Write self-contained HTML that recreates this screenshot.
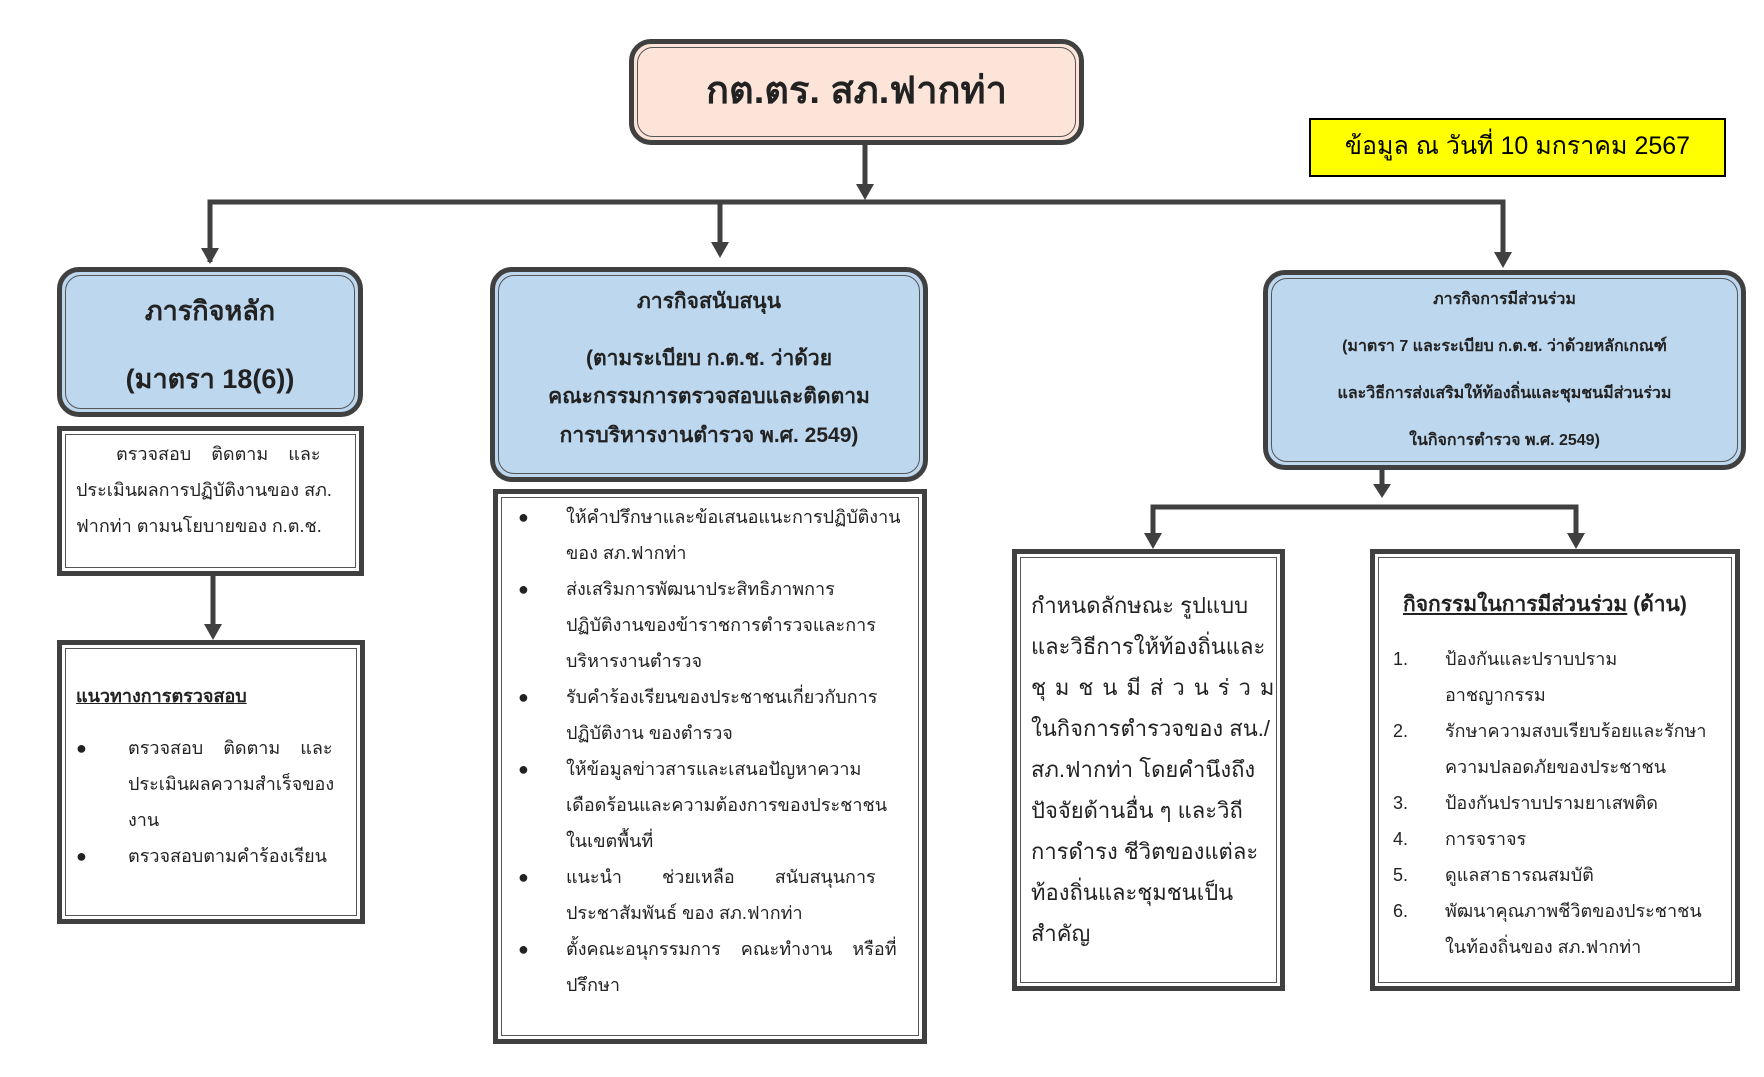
<!DOCTYPE html>
<html><head><meta charset="utf-8"><style>
body{margin:0;width:1764px;height:1077px;background:#fff;position:relative;overflow:hidden;font-family:"Liberation Sans","DejaVu Sans",sans-serif;color:#222}
.b{position:absolute;box-sizing:border-box;border:5px solid #404040;padding:3px}
.b>.i{width:100%;height:100%;box-sizing:border-box;border:1.5px solid #555;position:relative}
.r{border-radius:22px}.r>.i{border-radius:16px}
.blue>.i{background:#bdd7ee}.blue{background:#bdd7ee}
.t{position:absolute;left:0;right:0;text-align:center;white-space:nowrap;margin-top:-11px}
.l{position:absolute;white-space:nowrap;margin-top:-12px}
.n{display:inline-block}
</style></head><body>
<svg width="1764" height="1077" style="position:absolute;left:0;top:0">
<g stroke="#404040" stroke-width="5" fill="none">
<path d="M865 144V186"/>
<path d="M210 262V202H1503V254"/>
<path d="M720 202V244"/>
<path d="M213 575V626"/>
<path d="M1382 469V486"/>
<path d="M1153 535V507H1576V535"/>
</g>
<g fill="#404040">
<path d="M856 184h18l-9 16z"/>
<path d="M201 248h18l-9 16z"/>
<path d="M711 242h18l-9 16z"/>
<path d="M1494 252h18l-9 16z"/>
<path d="M204 624h18l-9 16z"/>
<path d="M1373 484h18l-9 14z"/>
<path d="M1144 533h18l-9 16z"/>
<path d="M1567 533h18l-9 16z"/>
</g>
</svg>

<div class="b r" style="left:629px;top:39px;width:455px;height:106px;background:#fde4d8"><div class="i" style="background:#fde4d8">
<div class="t" style="top:22px;font-size:38px;font-weight:bold;color:#222">กต.ตร. สภ.ฟากท่า</div></div></div>

<div style="position:absolute;left:1309px;top:118px;width:417px;height:59px;box-sizing:border-box;border:2px solid #000;background:#ffff00">
<div class="t" style="top:12px;font-size:25px;color:#000;margin-top:-6px">ข้อมูล ณ วันที่ 10 มกราคม 2567</div></div>

<div class="b r blue" style="left:57px;top:267px;width:306px;height:150px"><div class="i">
<div class="t" style="top:24px;font-size:27px;font-weight:bold">ภารกิจหลัก</div>
<div class="t" style="top:92px;font-size:27px;font-weight:bold">(มาตรา 18(6))</div></div></div>

<div class="b r blue" style="left:490px;top:267px;width:438px;height:215px"><div class="i">
<div class="t" style="top:20px;font-size:21px;font-weight:bold">ภารกิจสนับสนุน</div>
<div class="t" style="top:77px;font-size:21px;font-weight:bold">(ตามระเบียบ ก.ต.ช. ว่าด้วย</div>
<div class="t" style="top:115px;font-size:21px;font-weight:bold">คณะกรรมการตรวจสอบและติดตาม</div>
<div class="t" style="top:154px;font-size:21px;font-weight:bold">การบริหารงานตำรวจ พ.ศ. 2549)</div></div></div>

<div class="b r blue" style="left:1263px;top:270px;width:483px;height:200px"><div class="i">
<div class="t" style="top:19px;font-size:16px;font-weight:bold">ภารกิจการมีส่วนร่วม</div>
<div class="t" style="top:66px;font-size:16px;font-weight:bold">(มาตรา 7 และระเบียบ ก.ต.ช. ว่าด้วยหลักเกณฑ์</div>
<div class="t" style="top:113px;font-size:16px;font-weight:bold">และวิธีการส่งเสริมให้ท้องถิ่นและชุมชนมีส่วนร่วม</div>
<div class="t" style="top:160px;font-size:16px;font-weight:bold">ในกิจการตำรวจ พ.ศ. 2549)</div></div></div>

<div class="b" style="left:57px;top:426px;width:307px;height:150px"><div class="i" style="font-size:18px">
<div class="l" style="left:50px;top:16px">ตรวจสอบ &nbsp;&nbsp; ติดตาม &nbsp;&nbsp; และ</div>
<div class="l" style="left:10px;top:52px">ประเมินผลการปฏิบัติงานของ สภ.</div>
<div class="l" style="left:10px;top:88px">ฟากท่า ตามนโยบายของ ก.ต.ช.</div></div></div>

<div class="b" style="left:57px;top:640px;width:308px;height:284px"><div class="i" style="font-size:18px">
<div class="l" style="left:10px;top:44px;font-weight:bold;text-decoration:underline">แนวทางการตรวจสอบ</div>
<div class="l" style="left:10px;top:96px"><span class="n" style="width:52px">●</span>ตรวจสอบ &nbsp;&nbsp; ติดตาม &nbsp;&nbsp; และ</div>
<div class="l" style="left:62px;top:132px">ประเมินผลความสำเร็จของ</div>
<div class="l" style="left:62px;top:168px">งาน</div>
<div class="l" style="left:10px;top:204px"><span class="n" style="width:52px">●</span>ตรวจสอบตามคำร้องเรียน</div></div></div>

<div class="b" style="left:493px;top:489px;width:434px;height:555px"><div class="i" style="font-size:18px">
<div class="l" style="left:16px;top:16px"><span class="n" style="width:48px">●</span>ให้คำปรึกษาและข้อเสนอแนะการปฏิบัติงาน</div>
<div class="l" style="left:64px;top:52px">ของ สภ.ฟากท่า</div>
<div class="l" style="left:16px;top:88px"><span class="n" style="width:48px">●</span>ส่งเสริมการพัฒนาประสิทธิภาพการ</div>
<div class="l" style="left:64px;top:124px">ปฏิบัติงานของข้าราชการตำรวจและการ</div>
<div class="l" style="left:64px;top:160px">บริหารงานตำรวจ</div>
<div class="l" style="left:16px;top:196px"><span class="n" style="width:48px">●</span>รับคำร้องเรียนของประชาชนเกี่ยวกับการ</div>
<div class="l" style="left:64px;top:232px">ปฏิบัติงาน ของตำรวจ</div>
<div class="l" style="left:16px;top:268px"><span class="n" style="width:48px">●</span>ให้ข้อมูลข่าวสารและเสนอปัญหาความ</div>
<div class="l" style="left:64px;top:304px">เดือดร้อนและความต้องการของประชาชน</div>
<div class="l" style="left:64px;top:340px">ในเขตพื้นที่</div>
<div class="l" style="left:16px;top:376px"><span class="n" style="width:48px">●</span>แนะนำ &nbsp;&nbsp;&nbsp;&nbsp;&nbsp;&nbsp; ช่วยเหลือ &nbsp;&nbsp;&nbsp;&nbsp;&nbsp;&nbsp; สนับสนุนการ</div>
<div class="l" style="left:64px;top:412px">ประชาสัมพันธ์ ของ สภ.ฟากท่า</div>
<div class="l" style="left:16px;top:448px"><span class="n" style="width:48px">●</span>ตั้งคณะอนุกรรมการ &nbsp;&nbsp; คณะทำงาน &nbsp;&nbsp; หรือที่</div>
<div class="l" style="left:64px;top:484px">ปรึกษา</div></div></div>

<div class="b" style="left:1012px;top:549px;width:273px;height:442px"><div class="i" style="font-size:22px">
<div class="l" style="left:10px;top:42px">กำหนดลักษณะ รูปแบบ</div>
<div class="l" style="left:10px;top:83px">และวิธีการให้ท้องถิ่นและ</div>
<div class="l" style="left:10px;top:124px;letter-spacing:9px">ชุมชนมีส่วนร่วม</div>
<div class="l" style="left:10px;top:165px">ในกิจการตำรวจของ สน./</div>
<div class="l" style="left:10px;top:206px">สภ.ฟากท่า โดยคำนึงถึง</div>
<div class="l" style="left:10px;top:247px">ปัจจัยด้านอื่น ๆ และวิถี</div>
<div class="l" style="left:10px;top:288px">การดำรง ชีวิตของแต่ละ</div>
<div class="l" style="left:10px;top:329px">ท้องถิ่นและชุมชนเป็น</div>
<div class="l" style="left:10px;top:370px">สำคัญ</div></div></div>

<div class="b" style="left:1370px;top:549px;width:370px;height:442px"><div class="i" style="font-size:18px">
<div class="l" style="left:24px;top:42px;font-size:21px"><b style="text-decoration:underline">กิจกรรมในการมีส่วนร่วม</b> <b>(ด้าน)</b></div>
<div class="l" style="left:14px;top:98px"><span class="n" style="width:52px">1.</span>ป้องกันและปราบปราม</div>
<div class="l" style="left:66px;top:134px">อาชญากรรม</div>
<div class="l" style="left:14px;top:170px"><span class="n" style="width:52px">2.</span>รักษาความสงบเรียบร้อยและรักษา</div>
<div class="l" style="left:66px;top:206px">ความปลอดภัยของประชาชน</div>
<div class="l" style="left:14px;top:242px"><span class="n" style="width:52px">3.</span>ป้องกันปราบปรามยาเสพติด</div>
<div class="l" style="left:14px;top:278px"><span class="n" style="width:52px">4.</span>การจราจร</div>
<div class="l" style="left:14px;top:314px"><span class="n" style="width:52px">5.</span>ดูแลสาธารณสมบัติ</div>
<div class="l" style="left:14px;top:350px"><span class="n" style="width:52px">6.</span>พัฒนาคุณภาพชีวิตของประชาชน</div>
<div class="l" style="left:66px;top:386px">ในท้องถิ่นของ สภ.ฟากท่า</div></div></div>
</body></html>
